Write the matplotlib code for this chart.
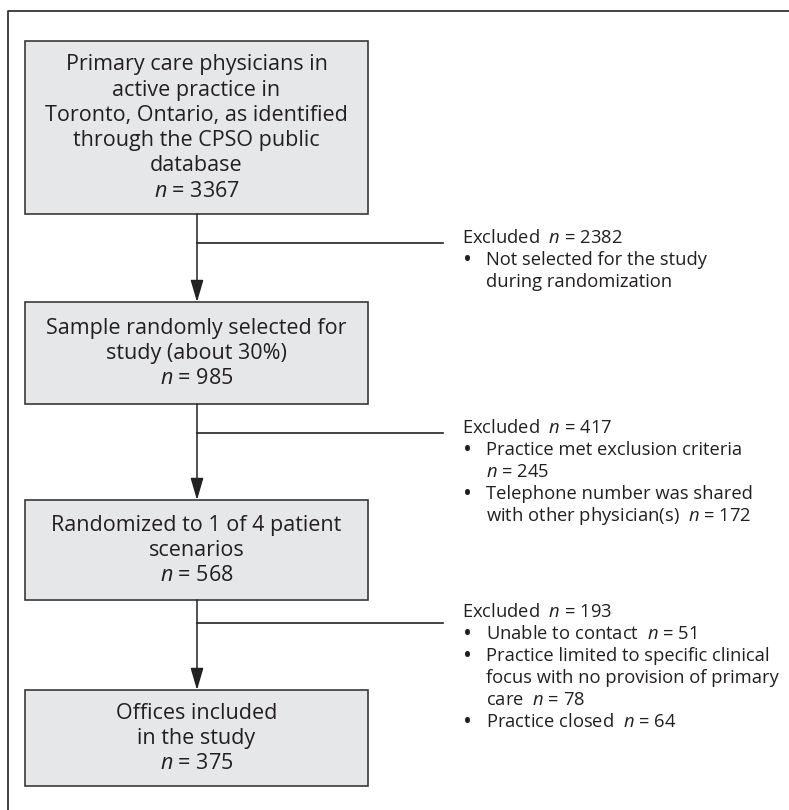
import matplotlib.pyplot as plt
from matplotlib.patches import Rectangle

plt.rcParams['font.family'] = ['Open Sans', 'DejaVu Sans']
plt.rcParams['mathtext.fontset'] = 'custom'
plt.rcParams['mathtext.it'] = 'Open Sans:italic'
plt.rcParams['mathtext.rm'] = 'Open Sans'

# flow data
box_labels = [
    ["Primary care physicians in", "active practice in",
     "Toronto, Ontario, as identified", "through the CPSO public", "database"],
    ["Sample randomly selected for", "study (about 30%)"],
    ["Randomized to 1 of 4 patient", "scenarios"],
    ["Offices included", "in the study"],
]
box_counts = [3367, 985, 568, 375]

excluded_totals = [2382, 417, 193]
excluded_reasons = [
    [["Not selected for the study", "during randomization"]],
    [["Practice met exclusion criteria", "$n$ = 245"],
     ["Telephone number was shared", "with other physician(s)  $n$ = 172"]],
    [["Unable to contact  $n$ = 51"],
     ["Practice limited to specific clinical", "focus with no provision of primary",
      "care  $n$ = 78"],
     ["Practice closed  $n$ = 64"]],
]

# layout (pixel coordinates)
box_tops = [41, 302, 500, 690]
box_bottoms = [214, 404, 600, 786]
branch_y = [243, 433, 623]
excl_y = [238, 428, 612]
x_left, x_right = 25, 368
x_mid = 197
x_branch_end = 443
x_text = 462

TXT = '#231f20'
EDGE = '#3a3a3a'
FILL = '#e6e7e8'

fig = plt.figure(figsize=(7.89, 8.10), dpi=100)
ax = fig.add_axes([0, 0, 1, 1])
ax.set_xlim(0, 789)
ax.set_ylim(810, 0)
ax.axis('off')

# outer frame (open to the right and bottom)
ax.plot([8, 8, 800], [820, 11, 11], color='#333333', lw=1.3)

box_step = 25.3
for i, (lines, n) in enumerate(zip(box_labels, box_counts)):
    top, bot = box_tops[i], box_bottoms[i]
    ax.add_patch(Rectangle((x_left, top), x_right - x_left, bot - top,
                           facecolor=FILL, edgecolor=EDGE, lw=1.2))
    all_lines = lines + ["$n$ = " + str(n)]
    y0 = (top + bot) / 2 - box_step * (len(all_lines) - 1) / 2
    for k, line in enumerate(all_lines):
        ax.text((x_left + x_right) / 2, y0 + k * box_step + 6, line,
                ha='center', va='baseline', fontsize=15.5, color=TXT)

side_step = 22
for i in range(3):
    # down arrow between boxes
    ax.annotate('', xy=(x_mid, box_tops[i + 1]), xytext=(x_mid, box_bottoms[i]),
                arrowprops=dict(arrowstyle='-|>,head_length=0.75,head_width=0.22',
                                color='#222222', lw=1.1,
                                mutation_scale=18, shrinkA=0, shrinkB=0))
    ax.plot([x_mid, x_branch_end], [branch_y[i], branch_y[i]],
            color='#222222', lw=1.2)

    y = excl_y[i]
    ax.text(x_text, y + 5, "Excluded  $n$ = " + str(excluded_totals[i]),
            ha='left', va='baseline', fontsize=13.2, color=TXT)
    y += 22
    for reason in excluded_reasons[i]:
        ax.text(x_text + 1, y + 7, u"\u2022", ha='left', va='baseline',
                fontsize=17, color=TXT)
        for line in reason:
            ax.text(x_text + 24, y + 5, line, ha='left', va='baseline',
                    fontsize=13.2, color=TXT)
            y += side_step

fig.savefig('out.png', dpi=100)
